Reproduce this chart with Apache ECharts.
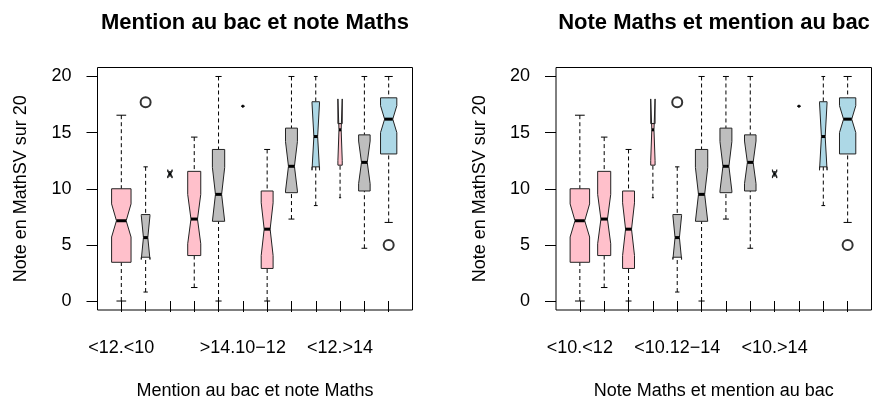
<!DOCTYPE html>
<html>
<head>
<meta charset="utf-8">
<title>Mention au bac et note Maths</title>
<script src="https://cdn.jsdelivr.net/npm/echarts@6/dist/echarts.min.js"></script>
<style>
  html, body { margin: 0; padding: 0; background: #fff; }
  #chart { width: 873px; height: 405px; }
</style>
</head>
<body>
<div id="chart"></div>
<script>
// niveaux des deux facteurs
const mentionLevels = ['<12', '12\u221214', '>14']
const mathsLevels = ['<10', '10\u221212', '12\u221214', '>14']
const mentionColors = ['#FFC0CB', '#BEBEBE', '#ADD8E6'] // pink, gray, lightblue

// statistiques des boites, ordre interaction(mention, maths) : mention varie le plus vite
const lowWhisker = [0, 0.8, 11.15, 1.2, 0, 17.35, 0, 7.3, 8.5, 9.2, 4.7, 7.0]
const lowerHinge = [3.45, 3.9, 11.15, 4.05, 7.1, 17.35, 2.9, 9.65, 11.95, 12.1, 9.8, 13.1]
const medians = [7.15, 5.65, 11.33, 7.3, 9.5, 17.35, 6.4, 12.0, 14.65, 15.25, 12.35, 16.2]
const upperHinge = [10.0, 7.7, 11.5, 11.55, 13.5, 17.35, 9.8, 15.4, 17.75, 15.8, 14.8, 18.1]
const highWhisker = [16.55, 11.95, 11.5, 14.6, 20, 17.35, 13.5, 20, 20, 15.8, 20, 20]
const notchLow = [5.7, 3.7, 10.95, 5.1, 7.1, 17.35, 4.05, 9.8, 11.65, 12.5, 10.45, 15.0]
const notchHigh = [8.65, 7.6, 11.7, 9.5, 11.9, 17.35, 8.75, 14.2, 17.65, 18.0, 14.25, 17.4]
const counts = [40, 8, 2, 18, 16, 1, 15, 15, 6, 2, 14, 28]
// valeurs atypiques : [indice du groupe, note]
const outliers = [[1, 17.7], [11, 5.0]]

const yTicks = [0, 5, 10, 15, 20]
const leftLabelAt = [1, 6, 10] // etiquettes affichees par R (les autres se chevauchent)
const rightLabelAt = [1, 5, 9]

const nMax = Math.max(...counts)
const nGroups = counts.length

// groupe i -> indices des facteurs
function mentionOf(i) { return i % mentionLevels.length }
function mathsOf(i) { return Math.floor(i / mentionLevels.length) }

// position dans chaque graphique
function leftPos(i) { return i + 1 }
function rightPos(i) { return mathsOf(i) + mentionOf(i) * mathsLevels.length + 1 }

const leftNames = []
const rightNames = []
for (let i = 0; i < nGroups; i++) {
  leftNames[leftPos(i)] = mentionLevels[mentionOf(i)] + '.' + mathsLevels[mathsOf(i)]
  rightNames[rightPos(i)] = mathsLevels[mathsOf(i)] + '.' + mentionLevels[mentionOf(i)]
}

function boxData(posFn) {
  const out = []
  for (let i = 0; i < nGroups; i++) {
    out.push([posFn(i), lowWhisker[i], lowerHinge[i], medians[i], upperHinge[i], highWhisker[i],
      notchLow[i], notchHigh[i], counts[i], mentionOf(i)])
  }
  return out
}

function outlierData(posFn) {
  return outliers.map(o => [posFn(o[0]), o[1]])
}

// dessin d'une boite a encoches facon bxp()
function renderBox(params, api) {
  const x = api.value(0)
  const wl = api.value(1)
  const q1 = api.value(2)
  const med = api.value(3)
  const q3 = api.value(4)
  const wh = api.value(5)
  const nlo = api.value(6)
  const nhi = api.value(7)
  const n = api.value(8)
  const col = mentionColors[api.value(9)]
  const wid = api.size([0.8 * Math.sqrt(n / nMax) / 2, 0])[0]
  const cx = api.coord([x, 0])[0]
  const py = v => api.coord([x, v])[1]
  const pts = [
    [cx - wid, py(q1)], [cx - wid, py(nlo)], [cx - wid / 2, py(med)], [cx - wid, py(nhi)], [cx - wid, py(q3)],
    [cx + wid, py(q3)], [cx + wid, py(nhi)], [cx + wid / 2, py(med)], [cx + wid, py(nlo)], [cx + wid, py(q1)]
  ]
  const children = []
  const dash = { stroke: '#000', lineWidth: 1, lineDash: [4, 3] }
  const solid = { stroke: '#000', lineWidth: 1 }
  if (wh > q3) {
    children.push({ type: 'line', shape: { x1: cx, y1: py(wh), x2: cx, y2: py(q3) }, style: dash })
  }
  if (wl < q1) {
    children.push({ type: 'line', shape: { x1: cx, y1: py(wl), x2: cx, y2: py(q1) }, style: dash })
  }
  children.push({ type: 'line', shape: { x1: cx - wid / 2, y1: py(wh), x2: cx + wid / 2, y2: py(wh) }, style: solid })
  children.push({ type: 'line', shape: { x1: cx - wid / 2, y1: py(wl), x2: cx + wid / 2, y2: py(wl) }, style: solid })
  children.push({ type: 'polygon', shape: { points: pts }, style: { fill: col, stroke: '#222', lineWidth: 1 } })
  children.push({ type: 'line', shape: { x1: cx - wid / 2, y1: py(med), x2: cx + wid / 2, y2: py(med) },
    style: { stroke: '#000', lineWidth: 3 } })
  return { type: 'group', children: children }
}

const textBase = { color: '#000', fontFamily: 'Liberation Sans, Arial, sans-serif', fontSize: 18 }
const allTicks = []
for (let k = 1; k <= nGroups; k++) allTicks.push(k)

function makeXAxis(idx, labelAt, names, title) {
  return {
    type: 'value', gridIndex: idx, min: 0.02, max: 12.98,
    name: title, nameLocation: 'middle', nameGap: 72,
    nameTextStyle: Object.assign({}, textBase),
    axisLine: { show: false },
    splitLine: { show: false },
    axisTick: { show: true, inside: false, length: 11, customValues: allTicks, lineStyle: { color: '#000', width: 1 } },
    axisLabel: Object.assign({ show: true, margin: 29, customValues: labelAt, formatter: v => names[Math.round(v)] }, textBase)
  }
}

function makeYAxis(idx) {
  return {
    type: 'value', gridIndex: idx, min: -0.8, max: 20.8,
    name: 'Note en MathSV sur 20', nameLocation: 'middle', nameGap: 67, nameRotate: 90,
    nameTextStyle: Object.assign({}, textBase),
    axisLine: { show: false },
    splitLine: { show: false },
    axisTick: { show: true, inside: false, length: 11, customValues: yTicks, lineStyle: { color: '#000', width: 1 } },
    axisLabel: Object.assign({ show: true, margin: 26, customValues: yTicks }, textBase)
  }
}

const chart = echarts.init(document.getElementById('chart'), null, { renderer: 'canvas' })
chart.setOption({
  animation: false,
  backgroundColor: '#fff',
  title: [
    { text: 'Mention au bac et note Maths', left: 255, top: 12, textAlign: 'center', padding: 0,
      textStyle: { color: '#000', fontFamily: 'Liberation Sans, Arial, sans-serif', fontSize: 22, fontWeight: 'bold' } },
    { text: 'Note Maths et mention au bac', left: 714, top: 12, textAlign: 'center', padding: 0,
      textStyle: { color: '#000', fontFamily: 'Liberation Sans, Arial, sans-serif', fontSize: 22, fontWeight: 'bold' } }
  ],
  grid: [
    { left: 97.5, top: 67.5, width: 315, height: 248, show: true, borderColor: '#000', borderWidth: 1, backgroundColor: 'transparent' },
    { left: 556, top: 67.5, width: 315.5, height: 248, show: true, borderColor: '#000', borderWidth: 1, backgroundColor: 'transparent' }
  ],
  xAxis: [
    makeXAxis(0, leftLabelAt, leftNames, 'Mention au bac et note Maths'),
    makeXAxis(1, rightLabelAt, rightNames, 'Note Maths et mention au bac')
  ],
  yAxis: [makeYAxis(0), makeYAxis(1)],
  series: [
    { type: 'custom', xAxisIndex: 0, yAxisIndex: 0, renderItem: renderBox, data: boxData(leftPos), clip: false },
    { type: 'custom', xAxisIndex: 1, yAxisIndex: 1, renderItem: renderBox, data: boxData(rightPos), clip: false },
    { type: 'scatter', xAxisIndex: 0, yAxisIndex: 0, data: outlierData(leftPos), symbol: 'emptyCircle', symbolSize: 10,
      itemStyle: { color: '#000', borderColor: '#000', borderWidth: 1 } },
    { type: 'scatter', xAxisIndex: 1, yAxisIndex: 1, data: outlierData(rightPos), symbol: 'emptyCircle', symbolSize: 10,
      itemStyle: { color: '#000', borderColor: '#000', borderWidth: 1 } }
  ]
})
</script>
</body>
</html>
